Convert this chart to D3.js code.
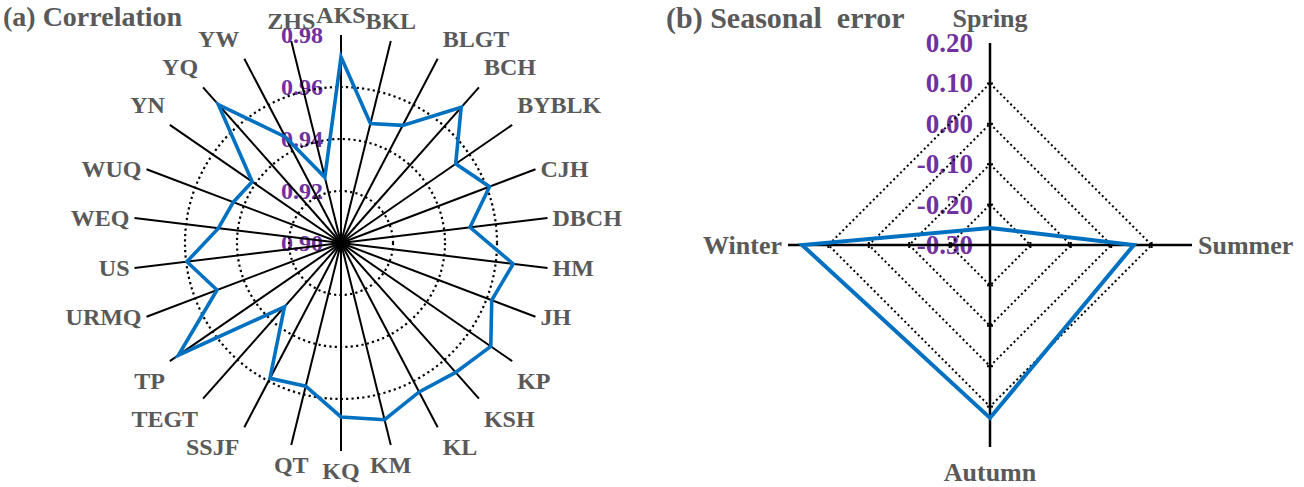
<html>
<head>
  <meta charset="utf-8" />
  <script src="https://cdnjs.cloudflare.com/ajax/libs/d3/7.8.5/d3.min.js"></script>
  <style>
    body { margin: 0; background: #fff; }
    text { font-family: "Liberation Serif", "Times New Roman", serif; font-weight: bold; }
  </style>
</head>
<body>
<script>

// (a) correlation per station
var stations = ["AKS", "BKL", "BLGT", "BCH", "BYBLK", "CJH", "DBCH", "HM", "JH", "KP", "KSH", "KL", "KM",
                "KQ", "QT", "SSJF", "TEGT", "TP", "URMQ", "US", "WEQ", "WUQ", "YN", "YQ", "YW", "ZHS"]
var corr = [0.9715, 0.9473, 0.9511, 0.9697, 0.9536, 0.9611, 0.9500, 0.9667, 0.9620, 0.9700, 0.9665, 0.9647, 0.9700,
            0.9669, 0.9567, 0.9588, 0.9328, 0.9760, 0.9510, 0.9597, 0.9475, 0.9443, 0.9415, 0.9711, 0.9461, 0.9260]
var corrTicks = [0.90, 0.92, 0.94, 0.96, 0.98]

// (b) seasonal error
var seasons = ["Spring", "Summer", "Autumn", "Winter"]
var seasonErr = [-0.258, 0.056, 0.128, 0.165]
var errTicks = [-0.30, -0.20, -0.10, 0.00, 0.10, 0.20]

var gray = "#595959", purple = "#7030A0", blue = "#0070C0"

var svg = d3.select("body").append("svg")
  .attr("width", 1304).attr("height", 487)

// ---------- panel a ----------
var gA = svg.append("g").attr("transform", "translate(341,243)")
var rA = d3.scaleLinear().domain([0.90, 0.98]).range([0, 208])
var angA = d3.scaleLinear().domain([0, stations.length]).range([0, 2 * Math.PI])

svg.append("text").attr("x", 3).attr("y", 26)
  .attr("font-size", 28).attr("fill", gray).text("(a) Correlation")

gA.selectAll(".tickA").data(corrTicks).enter().append("text")
  .attr("x", -18).attr("y", d => -rA(d)).attr("dy", "0.33em")
  .attr("text-anchor", "end").attr("font-size", 24).attr("fill", purple)
  .text(d => d.toFixed(2))

gA.selectAll(".ring").data(corrTicks.slice(1, 4)).enter().append("circle")
  .attr("r", d => rA(d)).attr("fill", "none").attr("stroke", "#000")
  .attr("stroke-width", 2.2).attr("stroke-dasharray", "2.2 3.2")

gA.selectAll(".spoke").data(stations).enter().append("line")
  .attr("x1", 0).attr("y1", 0)
  .attr("x2", (d, i) => d3.pointRadial(angA(i), rA(0.98))[0])
  .attr("y2", (d, i) => d3.pointRadial(angA(i), rA(0.98))[1])
  .attr("stroke", "#000").attr("stroke-width", 2)

gA.selectAll(".lab").data(stations).enter().append("text")
  .each(function(d, i) {
    var a = angA(i), s = Math.sin(a), c = Math.cos(a)
    var p = d3.pointRadial(a, rA(0.98))
    var anchor = Math.abs(s) < 0.3 ? "middle" : (s > 0 ? "start" : "end")
    var x = p[0] + (anchor == "middle" ? 0 : (s > 0 ? 5 : -5))
    var y = p[1] + (Math.abs(c) > 0.45 ? (c > 0 ? -20 : 20) : 0)
    d3.select(this).attr("x", x).attr("y", y).attr("dy", "0.33em").attr("text-anchor", anchor)
  })
  .attr("font-size", 24).attr("fill", gray)
  .text(d => d)

var lineA = d3.lineRadial()
  .angle((d, i) => angA(i))
  .radius(d => rA(d))
  .curve(d3.curveLinearClosed)

gA.append("path").attr("d", lineA(corr))
  .attr("fill", "none").attr("stroke", blue).attr("stroke-width", 3.6)
  .attr("stroke-linejoin", "miter")

// ---------- panel b ----------
var gB = svg.append("g").attr("transform", "translate(990,245)")
var rB = d3.scaleLinear().domain([-0.30, 0.20]).range([0, 202])
var angB = d3.scaleLinear().domain([0, seasons.length]).range([0, 2 * Math.PI])

svg.append("text").attr("x", 666).attr("y", 28)
  .attr("font-size", 30).attr("fill", gray).attr("xml:space", "preserve")
  .text("(b) Seasonal  error")

gB.selectAll(".tickB").data(errTicks).enter().append("text")
  .attr("x", -17).attr("y", d => -rB(d)).attr("dy", "0.33em")
  .attr("text-anchor", "end").attr("font-size", 27).attr("fill", purple)
  .text(d => d.toFixed(2))

var ringB = d3.lineRadial()
  .angle((d, i) => angB(i))
  .radius(d => d)
  .curve(d3.curveLinearClosed)

gB.selectAll(".diamond").data(errTicks.slice(1, 5)).enter().append("path")
  .attr("d", v => ringB(seasons.map(() => rB(v))))
  .attr("fill", "none").attr("stroke", "#000")
  .attr("stroke-width", 2).attr("stroke-dasharray", "2 2.8")

gB.selectAll(".axisB").data(seasons).enter().append("line")
  .attr("x1", 0).attr("y1", 0)
  .attr("x2", (d, i) => d3.pointRadial(angB(i), rB(0.20))[0])
  .attr("y2", (d, i) => d3.pointRadial(angB(i), rB(0.20))[1])
  .attr("stroke", "#000").attr("stroke-width", 2.5)

// little tick marks on the axes
seasons.forEach((s, i) => {
  errTicks.slice(1, 5).forEach(v => {
    var p = d3.pointRadial(angB(i), rB(v))
    var vert = i % 2 == 0
    gB.append("line")
      .attr("x1", p[0] - (vert ? 3 : 0)).attr("x2", p[0] + (vert ? 3 : 0))
      .attr("y1", p[1] - (vert ? 0 : 3)).attr("y2", p[1] + (vert ? 0 : 3))
      .attr("stroke", "#000").attr("stroke-width", 2)
  })
})

gB.selectAll(".labB").data(seasons).enter().append("text")
  .each(function(d, i) {
    var a = angB(i), s = Math.round(Math.sin(a)), c = Math.round(Math.cos(a))
    var p = d3.pointRadial(a, rB(0.20))
    var anchor = s == 0 ? "middle" : (s > 0 ? "start" : "end")
    d3.select(this)
      .attr("x", p[0] + s * 6)
      .attr("y", p[1] - c * 25)
      .attr("dy", "0.33em").attr("text-anchor", anchor)
  })
  .attr("font-size", 26).attr("fill", gray)
  .text(d => d)

var lineB = d3.lineRadial()
  .angle((d, i) => angB(i))
  .radius(d => rB(d))
  .curve(d3.curveLinearClosed)

gB.append("path").attr("d", lineB(seasonErr))
  .attr("fill", "none").attr("stroke", blue).attr("stroke-width", 4)

</script>
</body>
</html>
